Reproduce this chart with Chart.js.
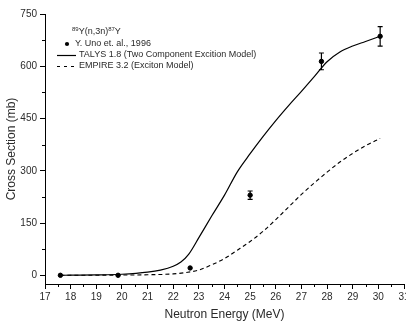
<!DOCTYPE html>
<html>
<head>
<meta charset="utf-8">
<script src="https://cdn.jsdelivr.net/npm/chart.js@4/dist/chart.umd.min.js"></script>
<style>
  html, body { margin: 0; padding: 0; background: #fff; overflow: hidden; }
  #wrap { width: 406px; height: 326px; overflow: hidden; }
</style>
</head>
<body>
<div id="wrap"><canvas id="xsChart" width="409" height="326"></canvas></div>
<script>
// Experimental points (Y. Uno et al., 1996)
const energyExp = [17.6, 19.85, 22.66, 25.0, 27.78, 30.07];
const xsExp = [0, 0, 21, 230, 614, 686];
const xsErr = [0, 0, 0, 12, 24, 28];

// TALYS 1.8
const energyTalys = [17.6, 18, 19, 20, 21, 21.5, 22, 22.3, 22.6, 23, 23.5, 24, 24.5, 25, 25.5, 26, 26.5, 27, 27.5, 28, 28.5, 29, 29.5, 30.07];
const xsTalys = [0, 0.3, 1, 3, 9, 15, 26, 38, 60, 108, 170, 230, 297, 349, 398, 444, 487, 528, 570, 613, 641, 658, 671, 686];

// EMPIRE 3.2
const energyEmpire = [17.6, 19, 20, 21, 22, 22.5, 23, 23.5, 24, 24.5, 25, 25.5, 26, 26.5, 27, 27.5, 28, 28.5, 29, 29.5, 30.07];
const xsEmpire = [0, 0.3, 0.6, 1.5, 4, 8, 15, 30, 48, 72, 97, 126, 160, 196, 232, 265, 296, 325, 350, 372, 393];

const yMajor = [0, 150, 300, 450, 600, 750];
const yMinor = [75, 225, 375, 525, 675];
const xMinor = [17.5, 18.5, 19.5, 20.5, 21.5, 22.5, 23.5, 24.5, 25.5, 26.5, 27.5, 28.5, 29.5, 30.5];

const FONT = "'Liberation Sans', Arial, sans-serif";
const TXT = '#2a2a2a';

function pts(xs, ys) {
    return xs.map((x, i) => ({ x: x, y: ys[i] }));
}

// error bars on the experimental points
const errorBars = {
    id: 'errorBars',
    afterDatasetsDraw(chart) {
        const ctx = chart.ctx;
        const xs = chart.scales.x, ys = chart.scales.y;
        ctx.save();
        ctx.strokeStyle = '#000';
        ctx.lineWidth = 1.2;
        energyExp.forEach((e, i) => {
            if (!xsErr[i]) return;
            const px = xs.getPixelForValue(e);
            const top = ys.getPixelForValue(xsExp[i] + xsErr[i]);
            const bot = ys.getPixelForValue(xsExp[i] - xsErr[i]);
            ctx.beginPath();
            ctx.moveTo(px, top); ctx.lineTo(px, bot);
            ctx.moveTo(px - 2.5, top); ctx.lineTo(px + 2.5, top);
            ctx.moveTo(px - 2.5, bot); ctx.lineTo(px + 2.5, bot);
            ctx.stroke();
        });
        ctx.restore();
    }
};

// minor ticks + legend
const extras = {
    id: 'extras',
    afterDraw(chart) {
        const ctx = chart.ctx;
        const xs = chart.scales.x, ys = chart.scales.y;
        const area = chart.chartArea;
        ctx.save();
        ctx.strokeStyle = '#000';
        ctx.lineWidth = 1;
        ctx.beginPath();
        xMinor.forEach(v => {
            const px = Math.round(xs.getPixelForValue(v)) + 0.5;
            ctx.moveTo(px, area.bottom); ctx.lineTo(px, area.bottom + 3);
        });
        yMinor.forEach(v => {
            const py = Math.round(ys.getPixelForValue(v)) + 0.5;
            ctx.moveTo(area.left - 3, py); ctx.lineTo(area.left, py);
        });
        ctx.stroke();

        // legend
        ctx.fillStyle = TXT;
        ctx.textBaseline = 'middle';
        let x = 72, y = 32;
        const seg = (t, size, dy) => {
            ctx.font = size + 'px ' + FONT;
            ctx.fillText(t, x, y + dy);
            x += ctx.measureText(t).width;
        };
        seg('89', 6, -3); seg('Y(n,3n)', 9, 0); seg('87', 6, -3); seg('Y', 9, 0);

        ctx.font = '9px ' + FONT;
        ctx.beginPath();
        ctx.arc(67, 44, 2.1, 0, Math.PI * 2);
        ctx.fillStyle = '#000';
        ctx.fill();
        ctx.fillStyle = TXT;
        ctx.fillText(chart.data.datasets[0].label, 75, 44);

        ctx.lineWidth = 1.2;
        ctx.beginPath();
        ctx.moveTo(57, 55.5); ctx.lineTo(76, 55.5);
        ctx.stroke();
        ctx.fillText(chart.data.datasets[1].label, 79, 55);

        ctx.lineWidth = 1;
        ctx.setLineDash([3, 4]);
        ctx.beginPath();
        ctx.moveTo(57, 66.5); ctx.lineTo(77, 66.5);
        ctx.stroke();
        ctx.setLineDash([]);
        ctx.fillText(chart.data.datasets[2].label, 79, 66);
        ctx.restore();
    }
};

const ctx = document.getElementById('xsChart').getContext('2d');
const xsChart = new Chart(ctx, {
    type: 'scatter',
    data: {
        datasets: [{
            label: 'Y. Uno et. al., 1996',
            data: pts(energyExp, xsExp),
            backgroundColor: '#000',
            borderColor: '#000',
            pointRadius: 2.2,
            showLine: false,
        }, {
            label: 'TALYS 1.8 (Two Component Excition Model)',
            data: pts(energyTalys, xsTalys),
            borderColor: '#000',
            borderWidth: 1.2,
            pointRadius: 0,
            showLine: true,
            cubicInterpolationMode: 'monotone',
        }, {
            label: 'EMPIRE 3.2 (Exciton Model)',
            data: pts(energyEmpire, xsEmpire),
            borderColor: '#000',
            borderWidth: 1.1,
            borderDash: [4, 3],
            pointRadius: 0,
            showLine: true,
            cubicInterpolationMode: 'monotone',
        }],
    },
    options: {
        responsive: false,
        animation: false,
        devicePixelRatio: 1,
        layout: { padding: { top: 14, right: 3, left: 0, bottom: 0 } },
        plugins: { legend: { display: false }, tooltip: { enabled: false } },
        scales: {
            x: {
                type: 'linear',
                min: 17, max: 31,
                ticks: { stepSize: 1, autoSkip: false, maxRotation: 0, padding: 2, color: TXT, font: { family: FONT, size: 10 } },
                grid: { drawOnChartArea: false, tickLength: 5, color: '#000' },
                border: { color: '#000', width: 1 },
                title: { display: true, text: 'Neutron Energy (MeV)', color: TXT, font: { family: FONT, size: 12 } },
                afterFit(scale) { scale.height = 42; scale.paddingLeft = 0; scale.paddingRight = 0; },
            },
            y: {
                min: -25, max: 750,
                afterBuildTicks(scale) { scale.ticks = yMajor.map(v => ({ value: v })); },
                ticks: { padding: 3, color: TXT, font: { family: FONT, size: 10 } },
                grid: { drawOnChartArea: false, tickLength: 5, color: '#000' },
                border: { color: '#000', width: 1 },
                title: { display: true, text: 'Cross Section (mb)', color: TXT, font: { family: FONT, size: 12 } },
                afterFit(scale) { scale.width = 45; scale.paddingTop = 0; scale.paddingBottom = 0; },
            },
        },
    },
    plugins: [errorBars, extras],
});
</script>
</body>
</html>
